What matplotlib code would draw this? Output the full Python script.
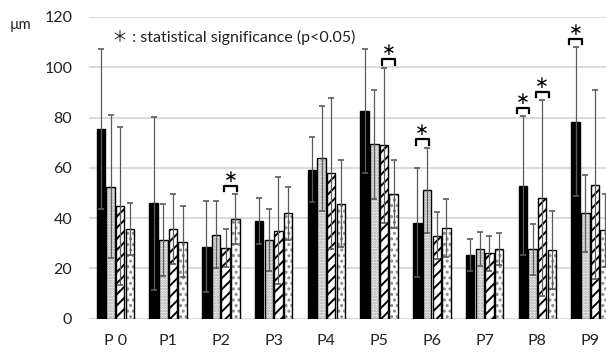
import matplotlib
matplotlib.use("Agg")
import matplotlib.pyplot as plt
import numpy as np

plt.rcParams['font.family'] = ['Lato', 'Noto Sans CJK JP', 'DejaVu Sans']
plt.rcParams['hatch.linewidth'] = 1.4

# --- data (um)
groups = ['P 0', 'P1', 'P2', 'P3', 'P4', 'P5', 'P6', 'P7', 'P8', 'P9']
means_a = [75.4, 45.9, 28.6, 38.8, 59.3, 82.5, 38.2, 25.3, 52.9, 78.4]
sd_a = [32.0, 34.4, 18.0, 9.0, 13.0, 24.7, 21.8, 6.4, 27.5, 29.6]
means_b = [52.5, 31.3, 33.4, 31.3, 63.7, 69.3, 51.0, 27.6, 27.6, 41.8]
sd_b = [28.3, 14.2, 13.4, 12.3, 21.0, 21.7, 17.0, 6.8, 10.2, 15.5]
means_c = [44.8, 35.5, 28.1, 34.9, 57.8, 68.9, 32.9, 26.0, 47.9, 53.3]
sd_c = [31.6, 14.0, 7.7, 21.3, 30.0, 30.8, 9.3, 7.0, 39.0, 37.7]
means_d = [35.7, 30.6, 39.5, 41.8, 45.7, 49.5, 35.9, 27.8, 27.3, 35.1]
sd_d = [10.4, 14.0, 10.0, 10.7, 17.2, 13.4, 11.6, 6.4, 15.5, 14.5]

# significance marks: (group index, bar position within group)
sig_marks = [(2, 2.5), (5, 2.5), (6, 0.5), (8, 0.0), (8, 2.0), (9, 0.0)]

yticks = [0, 20, 40, 60, 80, 100, 120]

means = [means_a, means_b, means_c, means_d]
sds = [sd_a, sd_b, sd_c, sd_d]
styles = [
    dict(face='black', hatch=None, hcol='black'),
    dict(face='white', hatch='......', hcol='#a0a0a0'),
    dict(face='white', hatch='///', hcol='black'),
    dict(face='white', hatch='...', hcol='#8a8a8a'),
]

fig = plt.figure(figsize=(6.06, 3.52), dpi=100)
ax = fig.add_axes([89 / 606, 33.5 / 352, 1 - 89 / 606, 301.5 / 352])

x = np.arange(len(groups))
step = 0.183
width = 0.16
offsets = (np.arange(4) - 1.5) * step

for k in range(4):
    st = styles[k]
    xs = x + offsets[k]
    if st['hatch']:
        ax.bar(xs, means[k], width, color=st['face'], hatch=st['hatch'],
               edgecolor=st['hcol'], linewidth=0, zorder=2)
        ax.bar(xs, means[k], width, fill=False, edgecolor='black',
               linewidth=1.0, zorder=2.5)
    else:
        ax.bar(xs, means[k], width, color=st['face'], edgecolor='black',
               linewidth=1.0, zorder=2)
    ax.errorbar(xs, means[k], yerr=sds[k], fmt='none', ecolor='#5a5a5a',
                elinewidth=0.9, capsize=1.9, capthick=1.2, zorder=3)

# significance brackets
tops = np.array(means) + np.array(sds)
for g, pos in sig_marks:
    lo, hi = int(np.floor(pos)), int(np.ceil(pos))
    yb = max(tops[lo, g], tops[hi, g]) + 3.4
    cx = x[g] + offsets[0] + pos * step
    half = 0.12
    ax.plot([cx - half, cx - half, cx + half, cx + half],
            [yb - 2.2, yb, yb, yb - 2.2], color='black', lw=1.6,
            solid_joinstyle='round', zorder=4, clip_on=False)
    ax.annotate('∗', (cx, yb), xytext=(0, 6.5), textcoords='offset points',
                ha='center', va='center', fontsize=12, family='DejaVu Sans',
                zorder=4, annotation_clip=False)

ax.set_xlim(-0.5, 9.30)
ax.set_ylim(0, 120)
ax.set_yticks(yticks)
ax.set_xticks(x)
ax.set_xticklabels(groups)
ax.tick_params(axis='both', length=0, labelsize=11.5, colors='#222222')
ax.tick_params(axis='y', pad=12)
ax.tick_params(axis='x', pad=11)
ax.grid(axis='y', color='#d4d4d4', lw=1.2, zorder=0)
ax.set_axisbelow(True)
for s in ax.spines.values():
    s.set_visible(False)

fig.text(10 / 606, 1 - 25 / 352, 'µm', fontsize=10.5, va='center', color='#222222')
fig.text(112 / 606, 1 - 37 / 352, '＊ : statistical significance (p<0.05)',
         fontsize=11.5, va='center', color='#222222')

fig.savefig('out.png', dpi=100)
